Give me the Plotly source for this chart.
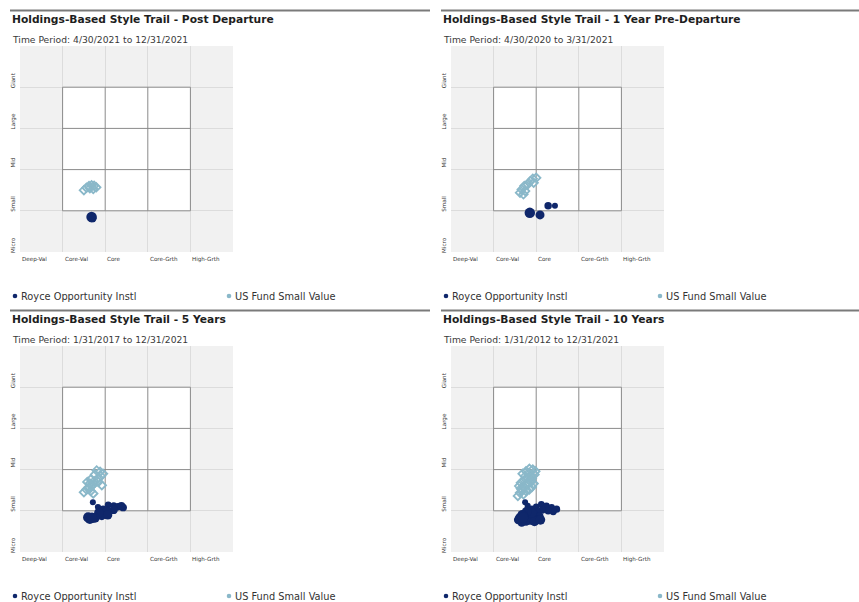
import plotly.graph_objects as go

W, H = 859, 602

# ---------------- data ----------------
x_tick_labels = ["Deep-Val", "Core-Val", "Core", "Core-Grth", "High-Grth"]
y_tick_labels = ["Micro", "Small", "Mid", "Large", "Giant"]

panel_titles = [
    "Holdings-Based Style Trail - Post Departure",
    "Holdings-Based Style Trail - 1 Year Pre-Departure",
    "Holdings-Based Style Trail - 5 Years",
    "Holdings-Based Style Trail - 10 Years",
]
panel_periods = [
    "Time Period: 4/30/2021 to 12/31/2021",
    "Time Period: 4/30/2020 to 3/31/2021",
    "Time Period: 1/31/2017 to 12/31/2021",
    "Time Period: 1/31/2012 to 12/31/2021",
]
series_names = ["Royce Opportunity Instl", "US Fund Small Value"]

# Post departure
royce_post_x = [1.66, 1.70, 1.68]
royce_post_y = [0.84, 0.82, 0.85]
cat_post_x = [1.50, 1.56, 1.62, 1.68, 1.74, 1.79, 1.72, 1.64]
cat_post_y = [1.50, 1.56, 1.60, 1.62, 1.61, 1.57, 1.53, 1.55]

# 1 year pre-departure
royce_pre_x = [2.44, 2.28, 2.09, 1.85]
royce_pre_y = [1.12, 1.12, 0.90, 0.95]
cat_pre_x = [2.00, 1.92, 1.86, 1.94, 1.80, 1.72, 1.66, 1.74, 1.62, 1.70]
cat_pre_y = [1.80, 1.78, 1.72, 1.68, 1.64, 1.60, 1.52, 1.48, 1.44, 1.40]

# 5 years
royce_5y_x = [1.71, 1.83, 1.95, 2.07, 2.20, 2.30, 2.42, 2.38, 2.20, 2.04, 1.92, 2.06, 1.85, 1.76, 1.64, 1.60, 1.69]
royce_5y_y = [1.21, 1.09, 1.05, 1.14, 1.12, 1.10, 1.08, 1.12, 1.02, 1.00, 0.88, 0.90, 0.95, 0.83, 0.80, 0.84, 0.83]
cat_5y_x = [1.50, 1.56, 1.62, 1.66, 1.72, 1.70, 1.64, 1.58, 1.66, 1.74, 1.82, 1.90, 1.95, 1.88, 1.80, 1.76, 1.84, 1.92, 1.62, 1.68]
cat_5y_y = [1.45, 1.52, 1.58, 1.48, 1.42, 1.62, 1.66, 1.70, 1.76, 1.72, 1.78, 1.84, 1.90, 1.95, 1.98, 1.88, 1.70, 1.62, 1.55, 1.60]

# 10 years
royce_10y_x = [1.74, 1.80, 1.90, 2.00, 2.12, 2.24, 2.36, 2.48, 2.40, 2.28, 2.14, 2.02, 1.96, 2.08, 1.98, 1.86, 1.76, 1.66, 1.58, 1.64, 1.72, 1.84, 1.96, 2.10, 1.90, 1.78, 1.68, 1.62, 1.70, 1.69]
royce_10y_y = [1.21, 1.12, 1.05, 1.10, 1.16, 1.12, 1.08, 1.04, 0.98, 1.00, 1.02, 0.96, 0.90, 0.86, 0.80, 0.76, 0.74, 0.72, 0.78, 0.86, 0.92, 0.84, 0.74, 0.78, 0.95, 0.98, 0.90, 0.82, 0.86, 0.83]
cat_10y_x = [1.57, 1.62, 1.70, 1.76, 1.84, 1.90, 1.94, 1.88, 1.80, 1.72, 1.66, 1.60, 1.64, 1.72, 1.80, 1.88, 1.96, 1.98, 1.92, 1.84, 1.76, 1.68, 1.74, 1.82, 1.90, 1.86, 1.78, 1.70, 1.64, 1.68]
cat_10y_y = [1.36, 1.44, 1.40, 1.48, 1.52, 1.58, 1.66, 1.70, 1.64, 1.58, 1.52, 1.60, 1.68, 1.74, 1.80, 1.84, 1.88, 1.96, 2.00, 2.02, 1.96, 1.90, 1.84, 1.92, 1.78, 1.72, 1.66, 1.60, 1.54, 1.50]

panels_royce = [(royce_post_x, royce_post_y), (royce_pre_x, royce_pre_y),
                (royce_5y_x, royce_5y_y), (royce_10y_x, royce_10y_y)]
panels_cat = [(cat_post_x, cat_post_y), (cat_pre_x, cat_pre_y),
              (cat_5y_x, cat_5y_y), (cat_10y_x, cat_10y_y)]

# ---------------- style ----------------
NAVY = "#0f276b"
LIGHT = "#8ab8c9"
FONT = "DejaVu Sans"
BOX_LINE = "#8a8a8a"
GRID = "#dcdcdc"
BG = "#f1f1f1"

offsets = [(0, 0), (431, 0), (0, 300), (431, 300)]

def px_x(p):
    return p / W

def px_y(p):
    return 1 - p / H

fig = go.Figure()
shapes = []
annotations = []

for i in range(4):
    dx, dy = offsets[i]
    xa = "xaxis" if i == 0 else f"xaxis{i+1}"
    ya = "yaxis" if i == 0 else f"yaxis{i+1}"
    xr = "x" if i == 0 else f"x{i+1}"
    yr = "y" if i == 0 else f"y{i+1}"

    fig.update_layout(**{
        xa: dict(domain=[px_x(20 + dx), px_x(233 + dx)], range=[0, 5], dtick=1, tick0=0,
                 showgrid=True, gridcolor=GRID, gridwidth=1, zeroline=False,
                 showticklabels=False, showline=False, anchor=yr, fixedrange=True),
        ya: dict(domain=[px_y(252 + dy), px_y(46 + dy)], range=[0, 5], dtick=1, tick0=0,
                 showgrid=True, gridcolor=GRID, gridwidth=1, zeroline=False,
                 showticklabels=False, showline=False, anchor=xr, fixedrange=True),
    })

    # style box
    shapes.append(dict(type="rect", xref=xr, yref=yr, x0=1, x1=4, y0=1, y1=4,
                       fillcolor="white", line=dict(color=BOX_LINE, width=1), layer="between"))
    for v in (2, 3):
        shapes.append(dict(type="line", xref=xr, yref=yr, x0=v, x1=v, y0=1, y1=4,
                           line=dict(color=BOX_LINE, width=1), layer="between"))
        shapes.append(dict(type="line", xref=xr, yref=yr, x0=1, x1=4, y0=v, y1=v,
                           line=dict(color=BOX_LINE, width=1), layer="between"))

    # traces
    rx, ry = panels_royce[i]
    cx, cy = panels_cat[i]
    n = len(rx)
    sizes = [6 + 4.5 * (k / max(n - 1, 1)) for k in range(n)]
    fig.add_trace(go.Scatter(x=cx, y=cy, mode="markers", xaxis=xr, yaxis=yr,
                             marker=dict(symbol="diamond-open", size=6.5, color=LIGHT, opacity=1,
                                         line=dict(width=1.8, color=LIGHT)),
                             showlegend=False, hoverinfo="skip"))
    fig.add_trace(go.Scatter(x=rx, y=ry, mode="markers", xaxis=xr, yaxis=yr,
                             marker=dict(symbol="circle", size=sizes, color=NAVY, opacity=1,
                                         line=dict(width=0)),
                             showlegend=False, hoverinfo="skip"))

    # axis labels
    for k, lab in enumerate(x_tick_labels):
        annotations.append(dict(x=k, y=px_y(259 + dy), xref=xr, yref="paper", text=lab,
                                showarrow=False, xanchor="left", yanchor="middle",
                                font=dict(family=FONT, size=5.6, color="#333")))
    for k, lab in enumerate(y_tick_labels):
        annotations.append(dict(x=px_x(13 + dx), y=k + 0.17, xref="paper", yref=yr, text=lab,
                                showarrow=False, xanchor="center", yanchor="middle", textangle=-90,
                                font=dict(family=FONT, size=5.6, color="#333")))

    # header
    x_right = 430 if dx == 0 else 859
    shapes.append(dict(type="line", xref="paper", yref="paper",
                       x0=px_x(10 + dx), x1=px_x(x_right), y0=px_y(10.5 + dy), y1=px_y(10.5 + dy),
                       line=dict(color="#7a7a7a", width=2)))
    annotations.append(dict(x=px_x(10 + dx), y=px_y(19.5 + dy), xref="paper", yref="paper",
                            text="<b>" + panel_titles[i] + "</b>", showarrow=False,
                            xanchor="left", yanchor="middle",
                            font=dict(family=FONT, size=10.7, color="#1e1e1e")))
    annotations.append(dict(x=px_x(10 + dx), y=px_y(39 + dy), xref="paper", yref="paper",
                            text=panel_periods[i], showarrow=False,
                            xanchor="left", yanchor="middle",
                            font=dict(family=FONT, size=9.2, color="#3a3a3a")))

    # legend
    ly = 296 + dy
    for j, (name, col, lx) in enumerate([(series_names[0], NAVY, 15), (series_names[1], LIGHT, 229)]):
        shapes.append(dict(type="circle", xref="paper", yref="paper",
                           x0=px_x(lx - 2.3 + dx), x1=px_x(lx + 2.3 + dx),
                           y0=px_y(ly + 2.3), y1=px_y(ly - 2.3),
                           fillcolor=col, line=dict(width=0)))
        annotations.append(dict(x=px_x(lx + 4 + dx), y=px_y(ly), xref="paper", yref="paper",
                                text=name, showarrow=False, xanchor="left", yanchor="middle",
                                font=dict(family=FONT, size=9.8, color="#333")))

fig.update_layout(width=W, height=H, margin=dict(l=0, r=0, t=0, b=0),
                  paper_bgcolor="white", plot_bgcolor=BG,
                  shapes=shapes, annotations=annotations, showlegend=False)

fig.write_html("out.html", config={"displayModeBar": False},
               post_script="document.body.style.margin='0px';document.body.style.overflow='hidden';")
